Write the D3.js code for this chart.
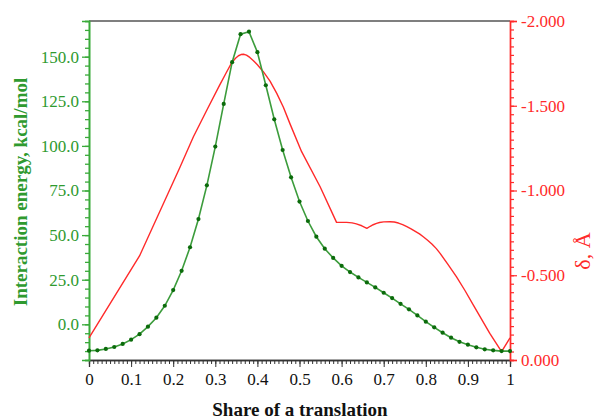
<!DOCTYPE html>
<html>
<head>
<meta charset="utf-8">
<script src="https://cdn.jsdelivr.net/npm/d3@7"></script>
<style>
  html, body { margin: 0; padding: 0; background: #ffffff; }
  svg { display: block; }
</style>
</head>
<body>
<svg id="chart" width="595" height="420"></svg>
<script>
// ---- data ----
const shareX = [0.00,0.02,0.04,0.06,0.08,0.10,0.12,0.14,0.16,0.18,0.20,0.22,0.24,0.26,0.28,0.30,0.32,0.34,0.36,0.38,0.40,0.42,0.44,0.46,0.48,0.50,0.52,0.54,0.56,0.58,0.60,0.62,0.64,0.66,0.68,0.70,0.72,0.74,0.76,0.78,0.80,0.82,0.84,0.86,0.88,0.90,0.92,0.94,0.96,0.98,1.00];
const energy = [-14.8,-14.6,-13.8,-12.7,-11.0,-8.6,-5.5,-1.3,3.7,10.4,19.2,30.0,43.2,59.0,77.9,99.6,123.5,146.9,162.6,164.0,152.5,134.0,114.9,97.7,82.4,68.8,57.9,49.1,42.4,37.2,32.8,29.3,26.3,23.5,20.7,17.7,14.7,11.5,8.4,5.0,1.5,-1.7,-4.7,-7.5,-9.8,-11.4,-12.9,-14.0,-14.6,-15.0,-15.0];

const deltaX = [0,0.12,0.215,0.248,0.28,0.31,0.325,0.339,0.348,0.355,0.361,0.367,0.374,0.382,0.39,0.40,0.414,0.43,0.446,0.462,0.477,0.505,0.549,0.588,0.612,0.625,0.635,0.648,0.66,0.668,0.675,0.683,0.69,0.70,0.715,0.725,0.735,0.745,0.755,0.765,0.775,0.785,0.794,0.805,0.815,0.825,0.834,0.853,0.873,0.893,0.913,0.952,0.980,1.0];
const delta = [-0.13,-0.614,-1.131,-1.317,-1.475,-1.62,-1.69,-1.754,-1.78,-1.795,-1.802,-1.804,-1.799,-1.785,-1.767,-1.742,-1.701,-1.645,-1.573,-1.49,-1.396,-1.229,-1.022,-0.812,-0.812,-0.809,-0.803,-0.792,-0.777,-0.789,-0.798,-0.806,-0.811,-0.815,-0.816,-0.814,-0.808,-0.799,-0.787,-0.774,-0.759,-0.744,-0.727,-0.705,-0.683,-0.657,-0.629,-0.563,-0.491,-0.41,-0.324,-0.157,-0.049,-0.13];

const xTicks = [0,0.1,0.2,0.3,0.4,0.5,0.6,0.7,0.8,0.9,1];
const energyTicks = [0,25,50,75,100,125,150];
const deltaTicks = [0,-0.5,-1.0,-1.5,-2.0];

const xTitle = "Share of a translation";
const yLeftTitle = "Interaction energy, kcal/mol";
const yRightTitle = "δ, Å";

// ---- layout ----
const FONT = "'Liberation Serif', 'Times New Roman', serif";
const L = 89, R = 510, T = 21, B = 360;
const green = "#2f9a2f", greenAxis = "#3aaa3a", greenLine = "#3c9c3c", greenDot = "#0b6b0b";
const red = "#ff2a2a";

const svg = d3.select("#chart");
const x = d3.scaleLinear().domain([0, 1]).range([L, R]);
const yL = d3.scaleLinear().domain([-20, 170]).range([B, T]);
const yR = d3.scaleLinear().domain([0, -2]).range([B, T]);

// top border
svg.append("line").attr("x1", L).attr("x2", R).attr("y1", T).attr("y2", T)
  .attr("stroke", "#555").attr("stroke-width", 1.5);

// ---- x axis ----
const xMinor = d3.range(0, 101).map(i => i / 100);
const gxm = svg.append("g").attr("transform", `translate(0,${B})`)
  .call(d3.axisBottom(x).tickValues(xMinor).tickSize(4).tickFormat(""));
const gx = svg.append("g").attr("transform", `translate(0,${B})`)
  .call(d3.axisBottom(x).tickValues(xTicks).tickSize(7).tickPadding(6).tickFormat(d => String(d)));
[gxm, gx].forEach(g => {
  g.selectAll("path").attr("stroke", "#333").attr("stroke-width", 1.3);
  g.selectAll("line").attr("stroke", "#333").attr("stroke-width", 1);
});
gx.selectAll("text").attr("fill", "#111").style("font-family", FONT).style("font-size", "17px");

// ---- left axis ----
const lMinor = d3.range(-20, 171, 5);
const glm = svg.append("g").attr("transform", `translate(${L},0)`)
  .call(d3.axisLeft(yL).tickValues(lMinor).tickSize(4).tickFormat(""));
const gl = svg.append("g").attr("transform", `translate(${L},0)`)
  .call(d3.axisLeft(yL).tickValues(energyTicks).tickSize(7).tickPadding(3).tickFormat(d => d.toFixed(1)));
[glm, gl].forEach(g => {
  g.selectAll("path").attr("stroke", greenAxis).attr("stroke-width", 1.6);
  g.selectAll("line").attr("stroke", greenAxis).attr("stroke-width", 1.3);
});
gl.selectAll("text").attr("fill", green).style("font-family", FONT).style("font-size", "17px");

// ---- right axis ----
const rMinor = d3.range(0, 41).map(i => -i * 0.05);
const grm = svg.append("g").attr("transform", `translate(${R},0)`)
  .call(d3.axisRight(yR).tickValues(rMinor).tickSize(4).tickFormat(""));
const gr = svg.append("g").attr("transform", `translate(${R},0)`)
  .call(d3.axisRight(yR).tickValues(deltaTicks).tickSize(7).tickPadding(4).tickFormat(d => d.toFixed(3)));
[grm, gr].forEach(g => {
  g.selectAll("path").attr("stroke", red).attr("stroke-width", 1.4);
  g.selectAll("line").attr("stroke", red).attr("stroke-width", 1.2);
});
gr.selectAll("text").attr("fill", red).style("font-family", FONT).style("font-size", "17px");

// ---- series ----
const redData = deltaX.map((d, i) => [d, delta[i]]);
svg.append("path").datum(redData)
  .attr("fill", "none").attr("stroke", red).attr("stroke-width", 1.4)
  .attr("stroke-linejoin", "round")
  .attr("d", d3.line().x(d => x(d[0])).y(d => yR(d[1])));

const greenData = shareX.map((d, i) => [d, energy[i]]);
svg.append("path").datum(greenData)
  .attr("fill", "none").attr("stroke", greenLine).attr("stroke-width", 1.6)
  .attr("d", d3.line().x(d => x(d[0])).y(d => yL(d[1])));
svg.append("g").selectAll("circle").data(greenData).join("circle")
  .attr("cx", d => x(d[0])).attr("cy", d => yL(d[1])).attr("r", 2.1)
  .attr("fill", greenDot);

// ---- titles ----
svg.append("text").attr("x", 300).attr("y", 416)
  .attr("text-anchor", "middle").attr("font-weight", "bold")
  .style("font-family", FONT).style("font-size", "19px").attr("fill", "#111").text(xTitle);

svg.append("text").attr("transform", `translate(27,${192}) rotate(-90)`)
  .attr("text-anchor", "middle").attr("font-weight", "bold")
  .style("font-family", FONT).style("font-size", "19px").attr("fill", green).text(yLeftTitle);

svg.append("text").attr("transform", `translate(590,${251}) rotate(-90)`)
  .attr("text-anchor", "middle")
  .style("font-family", FONT).style("font-size", "22px").attr("fill", red).text(yRightTitle);
</script>
</body>
</html>
